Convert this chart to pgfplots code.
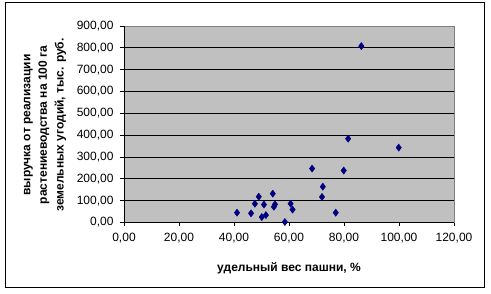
\documentclass[border=0pt]{standalone}
\usepackage{fontspec}
\setmainfont{Liberation Sans}
\usepackage{pgfplots}
\pgfplotsset{compat=1.18}
\definecolor{plotgray}{RGB}{192,192,192}
\definecolor{bordergray}{RGB}{128,128,128}
\definecolor{marknavy}{RGB}{0,0,128}
\begin{document}
\begin{tikzpicture}[x=1pt,y=1pt]
\useasboundingbox (0,0) rectangle (491,294);
\draw[black,line width=1pt] (5,6) rectangle (484,291);
\begin{axis}[
  at={(124pt,71.5pt)}, anchor=south west,
  scale only axis, width=330pt, height=196.5pt,
  xmin=0, xmax=120, ymin=0, ymax=900,
  xtick={0,20,...,120}, ytick={0,100,...,900},
  axis background/.style={fill=plotgray},
  axis line style={draw=bordergray, line width=0.8pt},
  ymajorgrids, grid style={black, line width=0.8pt},
  tick style={black, line width=0.8pt},
  tick align=outside, major tick length=4pt,
  xtick pos=bottom, ytick pos=left,
  /pgf/number format/.cd, fixed, fixed zerofill, precision=2, use comma, 1000 sep={}, assume math mode=true,
  /pgfplots/.cd,
  ticklabel style={font=\fontsize{12}{14}\selectfont},
  xticklabel style={yshift=-3pt},
  yticklabel style={xshift=-3pt},
  clip=false,
]
\addplot[only marks, mark=diamond*, mark size=3.6pt, color=marknavy] coordinates {
(41.1,45) (46.2,42) (47.6,86) (49.0,118) (50.1,25) (50.9,82) (51.6,34)
(54.1,132) (54.5,72) (54.9,83) (58.5,2) (60.6,86) (61.3,59) (68.4,247)
(72.0,117) (72.3,164) (77.0,45) (79.9,238) (81.5,384) (86.3,808) (99.9,343)
};
\draw[black, line width=0.8pt] (axis cs:0,0) -- (axis cs:120,0);
\draw[black, line width=0.8pt] (axis cs:0,0) -- (axis cs:0,900);
\end{axis}
\node[font=\fontsize{12}{14}\bfseries\selectfont] at (289,26) {удельный вес пашни, \%};
\node[rotate=90, align=center, font=\fontsize{12}{16.7}\bfseries\selectfont] at (45,169)
  {выручка от реализации\\растениеводства на 100 га\\земельных угодий, тыс. руб.};
\end{tikzpicture}
\end{document}
